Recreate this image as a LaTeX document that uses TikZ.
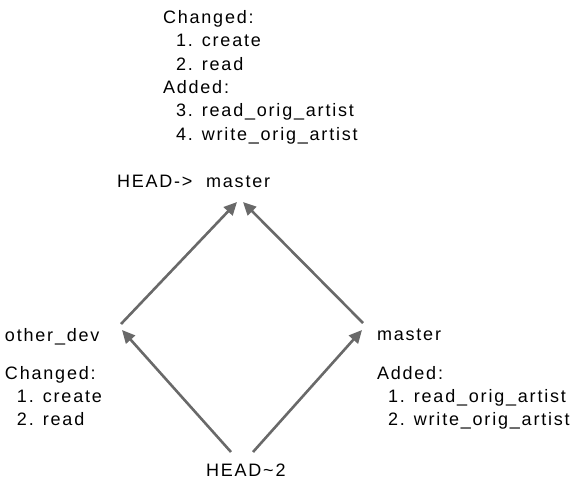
\documentclass[tikz,border=0pt]{standalone}
\usepackage{fontspec}
\setmainfont{Liberation Sans}[LetterSpace=10]
\usetikzlibrary{arrows.meta}
\definecolor{arrgray}{RGB}{105,105,105}
\begin{document}
\begin{tikzpicture}[x=1pt,y=-1pt,
  lbl/.style={inner sep=0pt, outer sep=0pt, anchor=base west, font=\fontsize{18}{23.4}\selectfont, align=left},
  arr/.style={draw=arrgray, line width=2.6pt, -{Triangle[length=13pt,width=12pt]}}]
\useasboundingbox (0,0) rectangle (580,488);
% multi-line nodes: base anchor = baseline of last line
\node[lbl] (topnote) at (163,140.3) {Changed:\\\hspace*{13pt}1. create\\\hspace*{13pt}2. read\\Added:\\\hspace*{13pt}3. read\_orig\_artist\\\hspace*{13pt}4. write\_orig\_artist};
\node[lbl] (headm) at (117,187) {HEAD->\ \ master};
\node[lbl] (odev) at (5,341) {other\_dev};
\node[lbl] (leftnote) at (5,425.8) {Changed:\\\hspace*{12pt}1. create\\\hspace*{12pt}2. read};
\node[lbl] (mast) at (377,340) {master};
\node[lbl] (rightnote) at (377,425.8) {Added:\\\hspace*{11pt}1. read\_orig\_artist\\\hspace*{11pt}2. write\_orig\_artist};
\node[lbl] (head2) at (206,476) {HEAD\textasciitilde 2};
\draw[arr] ([shift={(116,-17)}]odev.base west) -- ([shift={(120,15)}]headm.base west);
\draw[arr] ([shift={(-14,-17)}]mast.base west) -- ([shift={(126,15)}]headm.base west);
\draw[arr] ([shift={(25,-24)}]head2.base west) -- ([shift={(117,-11)}]odev.base west);
\draw[arr] ([shift={(47,-24)}]head2.base west) -- ([shift={(-15,-10)}]mast.base west);
\end{tikzpicture}
\end{document}
